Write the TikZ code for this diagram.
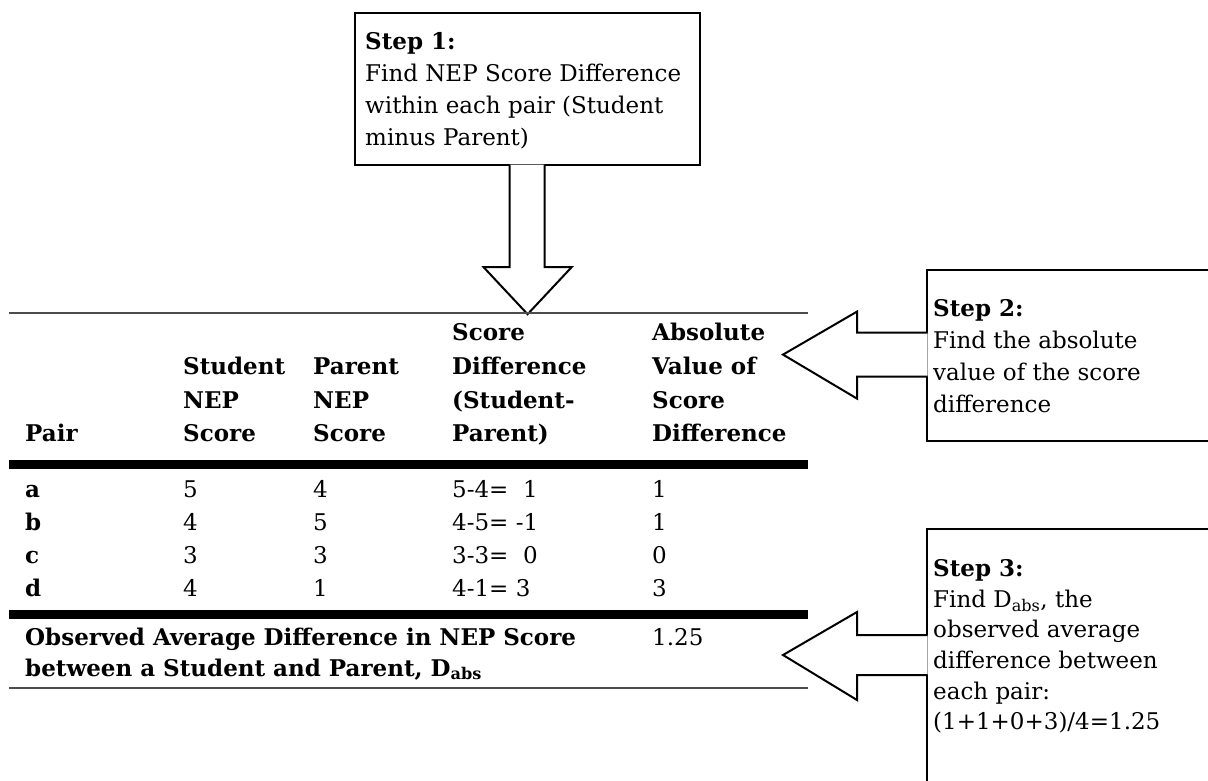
\documentclass[tikz,border=0pt]{standalone}
\usepackage{fontspec}
\setmainfont{DejaVu Serif}
\usetikzlibrary{positioning,calc}

\tikzset{
  stepbox/.style={draw, line width=2.2pt, inner sep=0pt, anchor=north west},
  steptext/.style={anchor=north west, align=left, inner sep=0pt,
    font=\fontsize{23}{32}\selectfont},
  blockarrow/.style={draw, fill=white, line width=2pt, line join=miter},
  thinrule/.style={draw=black!70, line width=1.4pt},
  thickrule/.style={draw=black, line width=9pt},
  cell/.style={anchor=base west, inner sep=0pt, font=\fontsize{23}{33.7}\selectfont},
  boldcell/.style={cell, font=\bfseries\fontsize{23}{33.7}\selectfont},
  head/.style={boldcell, anchor=south west, align=left, text depth=0pt}
}

\begin{document}
\begin{tikzpicture}[x=1pt,y=-1pt]
  \useasboundingbox (0,0) rectangle (1208,780);

  % Kaderna
  \node[stepbox, minimum width=345, minimum height=152] (box1) at (354,12) {};
  \node[stepbox, minimum width=300, minimum height=171] (box2) at (926,269) {};
  \node[stepbox, minimum width=300, minimum height=290] (box3) at (926,528) {};

  % Texter i kaderna
  \node[steptext] (t1) at ($(box1.north west)+(11,20)$)
    {\textbf{Step 1:}\\Find NEP Score Difference\\within each pair (Student\\minus Parent)};
  \node[steptext] (t2) at ($(box2.north west)+(7,30.5)$)
    {\textbf{Step 2:}\\Find the absolute\\value of the score\\difference};
  \node[steptext, font=\fontsize{23}{30.6}\selectfont] (t3) at ($(box3.north west)+(7,31.5)$)
    {\textbf{Step 3:}\\Find D\textsubscript{abs}, the\\observed average\\difference between\\each pair:\\(1+1+0+3)/4=1.25};

  % Pilar
  \filldraw[blockarrow, shift={(box1.south)}]
    (-18,-1.5) -- (-18,101) -- (-44,101) -- (0,148) -- (44,101) -- (17,101) -- (17,-1.5);
  \filldraw[blockarrow, shift={(box2.west)}]
    (1.5,-23) -- (-69,-23) -- (-69,-44) -- (-143,-1) -- (-69,43) -- (-69,21) -- (1.5,21);
  \filldraw[blockarrow, shift={(box3.north west)}]
    (1.5,107) -- (-69,107) -- (-69,84) -- (-143,127) -- (-69,172) -- (-69,147) -- (1.5,147);

  % Tabellinjer
  \coordinate (tl) at (9,313);
  \coordinate (tr) at (808,313);
  \draw[thinrule] (tl) -- (tr);
  \draw[thickrule] ($(tl)+(0,151.5)$) -- ($(tr)+(0,151.5)$);
  \draw[thickrule] ($(tl)+(0,301)$) -- ($(tr)+(0,301)$);
  \draw[thinrule] ($(tl)+(0,375)$) -- ($(tr)+(0,375)$);

  % Rubriker
  \node[head] (hpair) at (25,442) {Pair};
  \node[head] (hstud) at (183,442) {Student\\NEP\\Score};
  \node[head] (hpar)  at (313,442) {Parent\\NEP\\Score};
  \node[head] (hdiff) at (452,442) {Score\\Difference\\(Student-\\Parent)};
  \node[head] (habs)  at (652,442) {Absolute\\Value of\\Score\\Difference};

  % Rader
  \foreach \p/\s/\r/\d/\a [count=\i] in
    {a/5/4/{5-4=\ \ 1}/1, b/4/5/{4-5= -1}/1, c/3/3/{3-3=\ \ 0}/0, d/4/1/{4-1=\ 3}/3}
  {
    \node[boldcell] (p\i) at (25,{497+33.3*(\i-1)}) {\p};
    \node[cell] (s\i) at (183,{497+33.3*(\i-1)}) {\s};
    \node[cell] (r\i) at (313,{497+33.3*(\i-1)}) {\r};
    \node[cell] (d\i) at (452,{497+33.3*(\i-1)}) {\d};
    \node[cell] (a\i) at (652,{497+33.3*(\i-1)}) {\a};
  }

  % Medelvärde
  \node[boldcell] (obs1) at (25,645) {Observed Average Difference in NEP Score};
  \node[boldcell] (obs2) at (25,676) {between a Student and Parent, D\textsubscript{abs}};
  \node[cell] (mean) at (652,645) {1.25};
\end{tikzpicture}
\end{document}
